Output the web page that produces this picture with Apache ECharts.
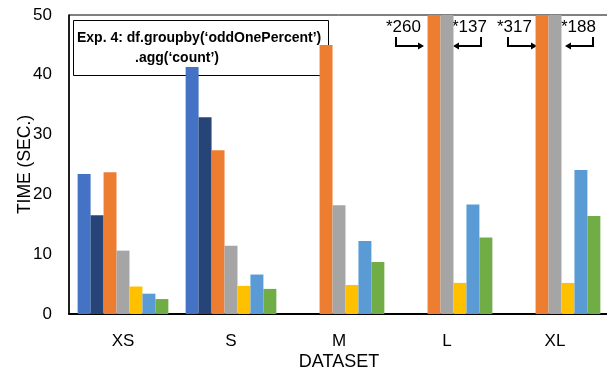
<!doctype html>
<html>
	<head>
		<meta charset="UTF-8">
		<title></title>
		<style type="text/css">
			html, body{
				margin: 0;
				padding: 0;
				background: #fff;
			}
			#chart{
				width: 607px;
				height: 373px;
			}
		</style>
	</head>
	<body>
		<div id="chart"></div>
		<script src="https://cdn.jsdelivr.net/npm/echarts@6/dist/echarts.min.js"></script>
		<script type="text/javascript">
			// 数据
			var categories = ['XS', 'S', 'M', 'L', 'XL'];
			var yTicks = [0, 10, 20, 30, 40, 50];
			var seriesNames = ['sys1', 'sys2', 'sys3', 'sys4', 'sys5', 'sys6', 'sys7'];
			var colors = ['#4472C4', '#264478', '#ED7D31', '#A5A5A5', '#FFC000', '#5B9BD5', '#70AD47'];
			var s1 = [23.4, 41.3, null, null, null];
			var s2 = [16.5, 32.9, null, null, null];
			var s3 = [23.7, 27.4, 45.0, 260, 317];
			var s4 = [10.6, 11.4, 18.2, 137, 188];
			var s5 = [4.6, 4.7, 4.85, 5.2, 5.2];
			var s6 = [3.4, 6.6, 12.2, 18.3, 24.1];
			var s7 = [2.5, 4.2, 8.7, 12.8, 16.4];
			var allData = [s1, s2, s3, s4, s5, s6, s7];

			var font = 'Liberation Sans, Arial, sans-serif';
			var myChart = echarts.init(document.getElementById('chart'), null, {renderer: 'canvas'});

			var series = [];
			for(var i=0;i<allData.length;i++){
				series.push({
					name: seriesNames[i],
					type: 'bar',
					data: allData[i],
					barGap: '0%',
					barCategoryGap: '16%',
					clip: true,
					z: 5,
					itemStyle: {color: colors[i]}
				});
			}

			// 超出范围的柱子的标注
			function arrowNote(txt, tx, vx, hx){
				var dir = hx > vx ? 1 : -1;
				return [
					{type: 'text', left: tx, top: 19, style: {text: txt, font: '17px ' + font, fill: '#000'}},
					{type: 'polyline', shape: {points: [[vx, 37], [vx, 46], [hx - dir * 5, 46]]}, style: {stroke: '#000', lineWidth: 2, fill: null}},
					{type: 'polygon', shape: {points: [[hx, 46], [hx - dir * 6, 42.5], [hx - dir * 6, 49.5]]}, style: {fill: '#000'}}
				];
			}

			// 标题框（在柱子下面）
			var graphics = [
				{type: 'rect', z: 1, shape: {x: 73.5, y: 20.5, width: 255, height: 55}, style: {fill: null, stroke: '#000', lineWidth: 1}},
				{type: 'text', left: 77, top: 31, z: 1, style: {text: 'Exp. 4: df.groupby(‘oddOnePercent’)', font: 'bold 14px ' + font, fill: '#000'}},
				{type: 'text', left: 135, top: 51, z: 1, style: {text: '.agg(‘count’)', font: 'bold 14px ' + font, fill: '#000'}}
			];
			graphics = graphics.concat(arrowNote('*260', 386, 396, 424));
			graphics = graphics.concat(arrowNote('*137', 452, 481, 453));
			graphics = graphics.concat(arrowNote('*317', 497, 508, 537));
			graphics = graphics.concat(arrowNote('*188', 561, 593, 565));

			var option = {
				animation: false,
				color: colors,
				grid: {
					left: 69,
					right: -2,
					top: 15,
					bottom: 59,
					show: true,
					borderColor: '#000',
					borderWidth: 1,
					containLabel: false,
					outerBoundsMode: 'none'
				},
				xAxis: {
					type: 'category',
					data: categories,
					name: 'DATASET',
					nameLocation: 'middle',
					nameGap: 39,
					nameMoveOverlap: false,
					nameTextStyle: {fontFamily: font, fontSize: 18, color: '#000'},
					axisLine: {show: true, lineStyle: {color: '#000', width: 2}},
					axisTick: {show: false},
					axisLabel: {fontFamily: font, fontSize: 17, color: '#000', margin: 19}
				},
				yAxis: {
					type: 'value',
					min: yTicks[0],
					max: yTicks[yTicks.length - 1],
					interval: yTicks[1] - yTicks[0],
					name: 'TIME (SEC.)',
					nameLocation: 'middle',
					nameGap: 35,
					nameMoveOverlap: false,
					nameTextStyle: {fontFamily: font, fontSize: 17.5, color: '#000'},
					axisLine: {show: true, lineStyle: {color: '#000', width: 1.5}},
					axisTick: {show: false},
					splitLine: {show: false},
					axisLabel: {fontFamily: font, fontSize: 17, color: '#000', margin: 17}
				},
				series: series,
				graphic: graphics
			};
			myChart.setOption(option, true);
		</script>
	</body>
</html>
